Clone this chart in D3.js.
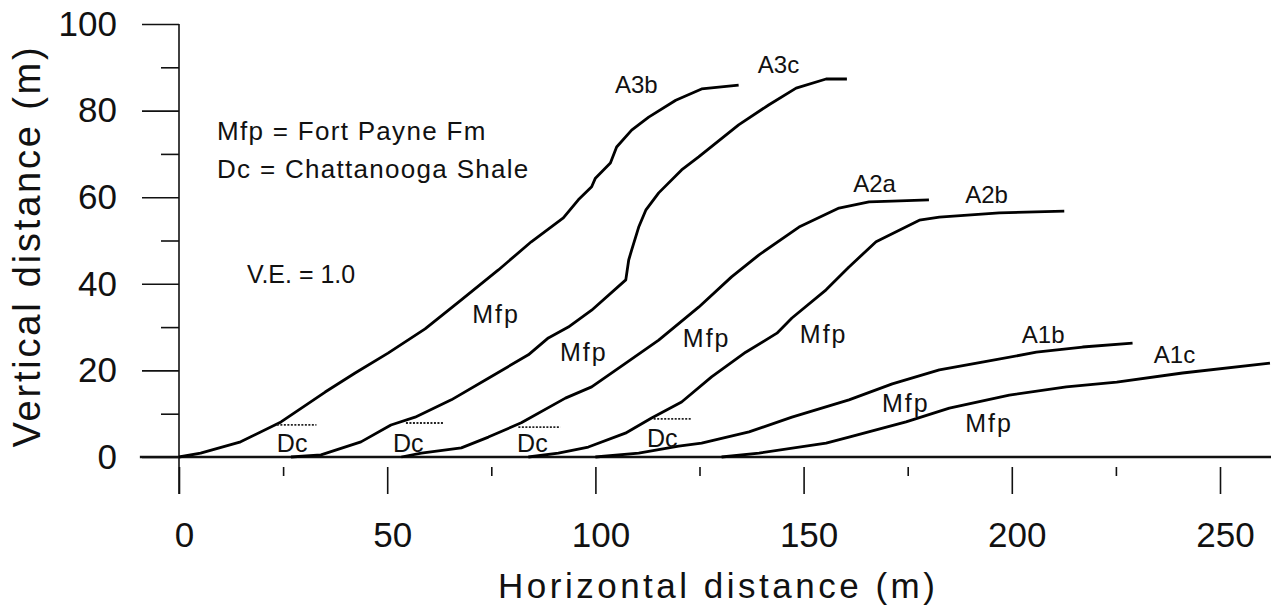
<!DOCTYPE html>
<html>
<head>
<meta charset="utf-8">
<script src="https://cdn.jsdelivr.net/npm/d3@7"></script>
<style>
  body { margin: 0; background: #fff; }
  svg { display: block; font-family: "Liberation Sans", Arial, sans-serif; }
</style>
</head>
<body>
<script>
// Slope profiles (horizontal m, vertical m)
const a3b = [[0,0],[5.2,0.9],[14.8,3.5],[24.5,8.1],[35.1,15.0],[42.3,19.4],[50.2,24.0],[59.1,29.6],[67.8,36.3],[76.7,43.2],[84.6,49.7],[92.3,55.2],[95.9,59.4],[99.1,62.4],[100.0,64.4],[103.6,67.9],[105.1,71.6],[108.7,75.5],[112.8,78.5],[119.3,82.4],[125.5,85.0],[134.4,85.9]];
const a3c = [[26.9,0],[34.1,0.5],[43.7,3.5],[50.9,7.4],[56.7,9.2],[65.4,13.2],[74.3,18.2],[83.9,23.6],[88.7,27.5],[93.5,30.0],[99.1,33.9],[107.3,40.9],[108.0,45.5],[108.7,47.8],[110.4,53.1],[112.1,57.0],[115.2,61.0],[120.7,66.3],[124.8,69.3],[134.4,76.7],[141.6,81.3],[148.2,85.2],[155.4,87.3],[160.4,87.3]];
const a2a = [[53.4,0],[58.2,0.9],[67.8,2.1],[74.3,4.6],[82.2,7.9],[92.8,13.6],[99.1,16.2],[107.3,21.7],[115.2,27.0],[124.8,34.6],[132.7,41.6],[139.3,46.7],[148.9,53.1],[158.5,57.5],[165.7,58.9],[171.3,59.1],[180.1,59.4]];
const a2b = [[83.9,0],[91.1,0.9],[98.3,2.3],[107.2,5.5],[113.5,9.0],[120.7,12.7],[127.9,18.5],[136.1,24.2],[143.6,28.6],[147.2,32.1],[155.4,38.6],[160.9,43.9],[167.4,49.7],[177.8,54.7],[182.6,55.4],[197.0,56.4],[212.6,56.8]];
const a1b = [[100.0,0],[110.4,0.9],[120.0,2.5],[125.5,3.2],[136.9,5.8],[147.2,9.2],[160.9,13.2],[171.3,16.9],[182.6,20.1],[192.9,21.9],[205.9,24.2],[217.0,25.4],[229.0,26.3]];
const a1c = [[130.3,0],[139.3,0.9],[155.4,3.2],[160.9,4.6],[174.6,8.1],[185.0,11.3],[199.4,14.3],[213.1,16.2],[225.2,17.3],[241.0,19.4],[262.0,21.7]];
const groundLine = [[-9.4,0],[262.3,0]];

// Dc (Chattanooga Shale) contacts: [x start, x end, height]
const dcContacts = [[23.5,33.0,7.4],[54.5,63.5,7.85],[81.5,91.6,6.9],[114.0,123.1,8.8]];

// Profile names and where they are written
const profileNames = ["A3b","A3c","A2a","A2b","A1b","A1c"];
const profileLabelAt = [[104.7,84.1],[139.0,88.7],[161.9,61.2],[188.8,58.7],[202.4,26.3],[234.1,21.7]];
const mfpLabelAt = [[70.4,30.9],[91.5,22.2],[121.0,25.4],[149.1,26.3],[168.8,10.4],[188.8,5.8]];
const dcLabelAt = [[23.5,1.2],[51.4,1.2],[81.2,1.2],[112.4,2.3]];

const xTickMajor = [0,50,100,150,200,250];
const xTickMinor = [25,75,125,175,225];
const yTickMajor = [0,20,40,60,80,100];
const yTickMinor = [10,30,50,70,90];

const width = 1271, height = 613;

const svg = d3.select("body").append("svg")
    .attr("width", width)
    .attr("height", height);

const x = d3.scaleLinear().domain([0, 250]).range([179, 1220]);
const y = d3.scaleLinear().domain([0, 100]).range([457, 24]);

// y axis
const yMajor = svg.append("g")
    .attr("transform", `translate(${x(0)},0)`)
    .call(d3.axisLeft(y).tickValues(yTickMajor).tickSize(37).tickPadding(25));
const yMinor = svg.append("g")
    .attr("transform", `translate(${x(0)},0)`)
    .call(d3.axisLeft(y).tickValues(yTickMinor).tickSize(18).tickFormat(""));

// x axis hangs a little below the ground line
const xMajor = svg.append("g")
    .attr("transform", `translate(0,467)`)
    .call(d3.axisBottom(x).tickValues(xTickMajor).tickSize(27).tickPadding(28));
const xMinor = svg.append("g")
    .attr("transform", `translate(0,467)`)
    .call(d3.axisBottom(x).tickValues(xTickMinor).tickSize(9).tickFormat(""));

[yMajor, yMinor, xMajor, xMinor].forEach(g => {
    g.select(".domain").remove();
    g.selectAll("line").attr("stroke", "#111").attr("stroke-width", 1.6);
    g.selectAll("text").attr("font-size", 35).attr("fill", "#111")
        .attr("font-family", "Liberation Sans, Arial, sans-serif");
});
xMajor.selectAll("text").attr("dx", 5);

svg.append("line")
    .attr("x1", x(0)).attr("x2", x(0))
    .attr("y1", y(100)).attr("y2", 494)
    .attr("stroke", "#111").attr("stroke-width", 1.6);

// axis titles
svg.append("text")
    .attr("x", 498).attr("y", 598)
    .attr("font-size", 35).attr("letter-spacing", 3.5)
    .attr("fill", "#111")
    .text("Horizontal distance (m)");

svg.append("text")
    .attr("transform", "translate(40,246) rotate(-90)")
    .attr("text-anchor", "middle")
    .attr("font-size", 38).attr("letter-spacing", 2.8)
    .attr("fill", "#111")
    .text("Vertical distance (m)");

// profiles
const line = d3.line().x(d => x(d[0])).y(d => y(d[1]));
const profiles = [a3b, a3c, a2a, a2b, a1b, a1c];

svg.append("path")
    .attr("d", line(groundLine))
    .attr("fill", "none").attr("stroke", "#111").attr("stroke-width", 2.4);

svg.selectAll(".profile")
    .data(profiles)
    .enter().append("path")
    .attr("class", "profile")
    .attr("d", line)
    .attr("fill", "none")
    .attr("stroke", "#000")
    .attr("stroke-width", 2.8)
    .attr("stroke-linejoin", "round");

svg.selectAll(".dc")
    .data(dcContacts)
    .enter().append("line")
    .attr("class", "dc")
    .attr("x1", d => x(d[0])).attr("x2", d => x(d[1]))
    .attr("y1", d => y(d[2])).attr("y2", d => y(d[2]))
    .attr("stroke", "#222").attr("stroke-width", 1.8)
    .attr("stroke-dasharray", "2,1.5");

// labels
svg.selectAll(".pname")
    .data(profileNames)
    .enter().append("text")
    .attr("x", (d, i) => x(profileLabelAt[i][0]))
    .attr("y", (d, i) => y(profileLabelAt[i][1]))
    .attr("font-size", 24).attr("fill", "#111")
    .text(d => d);

svg.selectAll(".mfp")
    .data(mfpLabelAt)
    .enter().append("text")
    .attr("x", d => x(d[0])).attr("y", d => y(d[1]))
    .attr("font-size", 25).attr("letter-spacing", 2).attr("fill", "#111")
    .text("Mfp");

svg.selectAll(".dclab")
    .data(dcLabelAt)
    .enter().append("text")
    .attr("x", d => x(d[0])).attr("y", d => y(d[1]))
    .attr("font-size", 25).attr("fill", "#111")
    .text("Dc");

// key
svg.append("text").attr("x", 217).attr("y", 140)
    .attr("font-size", 26).attr("letter-spacing", 1.3).attr("fill", "#111")
    .text("Mfp = Fort Payne Fm");
svg.append("text").attr("x", 217).attr("y", 178)
    .attr("font-size", 26).attr("letter-spacing", 1.3).attr("fill", "#111")
    .text("Dc = Chattanooga Shale");
svg.append("text").attr("x", 247).attr("y", 283)
    .attr("font-size", 25).attr("fill", "#111")
    .text("V.E. = 1.0");
</script>
</body>
</html>
